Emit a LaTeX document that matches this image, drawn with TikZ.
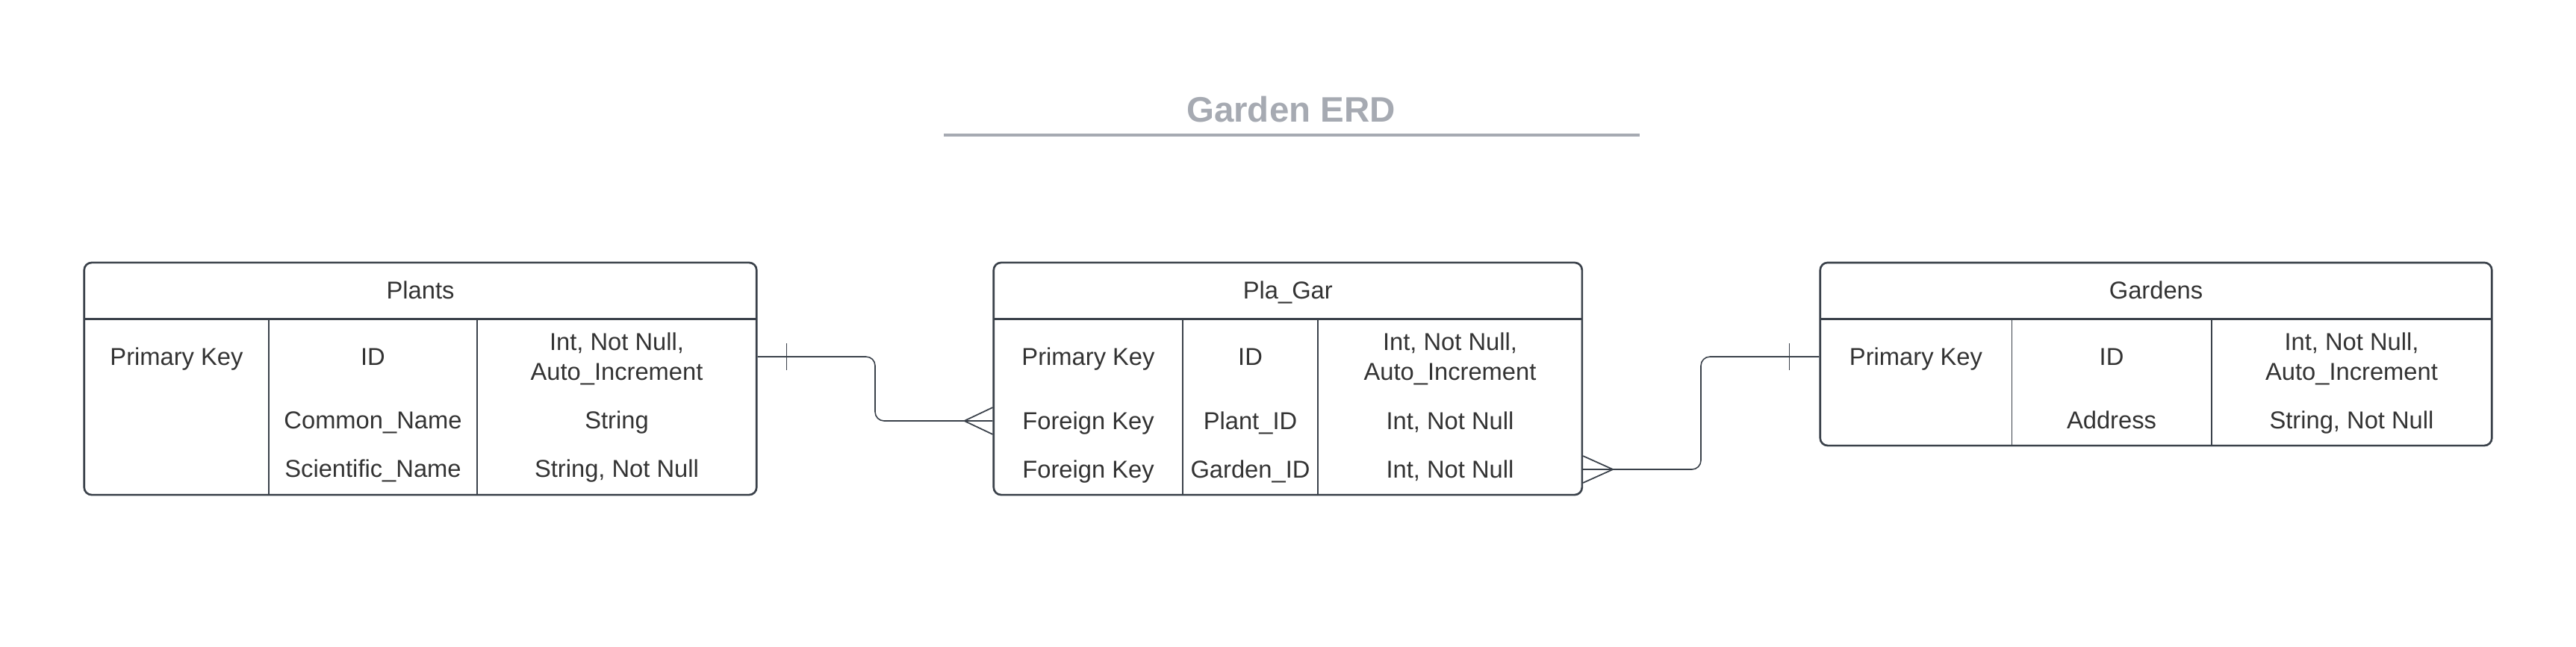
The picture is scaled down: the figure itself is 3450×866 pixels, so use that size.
\documentclass[tikz,border=0pt]{standalone}
\usepackage{fontspec}
\setmainfont{Liberation Sans}
\definecolor{linecolor}{RGB}{58, 65, 74}
\definecolor{textcolor}{RGB}{51, 51, 51}
\definecolor{titlecolor}{RGB}{166, 170, 178}

\begin{document}
\begin{tikzpicture}[x=0.01cm, y=-0.01cm,
    tablebox/.style={draw=linecolor, line width=0.75pt, rounded corners=0.1cm, inner sep=0pt},
    headline/.style={draw=linecolor, line width=0.85pt},
    divider/.style={draw=linecolor, line width=0.4pt},
    cell/.style={text=textcolor, font=\fontsize{9.3}{11.3}\selectfont, align=center, inner sep=0pt, text depth=0pt},
    conn/.style={draw=linecolor, line width=0.45pt, rounded corners=0.12cm},
    foot/.style={draw=linecolor, line width=0.5pt}]
            \useasboundingbox (0,0) rectangle (3450,866);

            % Titre
            \node[text=titlecolor, font=\fontsize{13.5}{16}\selectfont\bfseries] (title) at (1729,147) {Garden ERD};
            \draw[titlecolor, line width=1pt] (1264,181) -- (2196,181);

            % Table Plants
            \node[tablebox, minimum width=9cm, minimum height=3.11cm] (plants) at (563,507.5) {};
            \node[cell] (plantsName) at (563,389) {Plants};
            \draw[headline] (113,427) -- (1013,427);
            \foreach \x in {360,639} {
                \draw[divider] (\x,427) -- (\x,663);
            }
            \node[cell] (plantsKey) at (236.5,478) {Primary Key};
            \foreach \nm/\y/\field/\kind in {plantsID/478/ID/{Int, Not Null,\\Auto\_Increment},
                    plantsCommon/563/Common\_Name/String, plantsSci/628/Scientific\_Name/{String, Not Null}} {
                \node[cell] (\nm) at (499.5,\y) {\field};
                \node[cell] (\nm-type) at (826,\y) {\kind};
            }

            % Table Pla_Gar
            \node[tablebox, minimum width=7.876cm, minimum height=3.11cm] (plagar) at (1724.8,507.5) {};
            \node[cell] (plagarName) at (1724.8,389) {Pla\_Gar};
            \draw[headline] (1331,427) -- (2118.6,427);
            \foreach \x in {1584,1765} {
                \draw[divider] (\x,427) -- (\x,663);
            }
            \foreach \nm/\y/\key/\field/\kind in {plagarPK/478/Primary Key/ID/{Int, Not Null,\\Auto\_Increment},
                    plagarFK/564/Foreign Key/Plant\_ID/{Int, Not Null}, plagarGK/629/Foreign Key/Garden\_ID/{Int, Not Null}} {
                \node[cell] (\nm) at (1457.5,\y) {\key};
                \node[cell] (\nm-field) at (1674.5,\y) {\field};
                \node[cell] (\nm-type) at (1942,\y) {\kind};
            }

            % Table Gardens
            \node[tablebox, minimum width=8.99cm, minimum height=2.45cm] (gardens) at (2887.5,474.5) {};
            \node[cell] (gardensName) at (2887.5,389) {Gardens};
            \draw[headline] (2438,427) -- (3337,427);
            \foreach \x in {2694.5,2962} {
                \draw[divider] (\x,427) -- (\x,597);
            }
            \node[cell] (gardensKey) at (2566,478) {Primary Key};
            \foreach \nm/\y/\field/\kind in {gardensID/478/ID/{Int, Not Null,\\Auto\_Increment},
                    gardensAddr/563/Address/{String, Not Null}} {
                \node[cell] (\nm) at (2828,\y) {\field};
                \node[cell] (\nm-type) at (3149.5,\y) {\kind};
            }

            % Relation Plants -> Pla_Gar
            \coordinate (bendA) at (1172,0);
            \draw[conn] (plants.east |- plantsKey) -- (bendA |- plantsKey) -- (bendA |- plagarFK) -- (plagar.west |- plagarFK);
            \draw[foot] (plants.east |- plantsKey) ++(39,-18) -- ++(0,36);
            \draw[foot] (plagar.west |- plagarFK) ++(0,-18) -- ++(-38,18) -- ++(38,18);

            % Relation Pla_Gar -> Gardens
            \coordinate (bendB) at (2278,0);
            \draw[conn] (plagar.east |- plagarGK) -- (bendB |- plagarGK) -- (bendB |- gardensKey) -- (gardens.west |- gardensKey);
            \draw[foot] (plagar.east |- plagarGK) ++(0,-18) -- ++(40,18) -- ++(-40,18);
            \draw[foot] (gardens.west |- gardensKey) ++(-40,-18) -- ++(0,36);
        \end{tikzpicture}
\end{document}
